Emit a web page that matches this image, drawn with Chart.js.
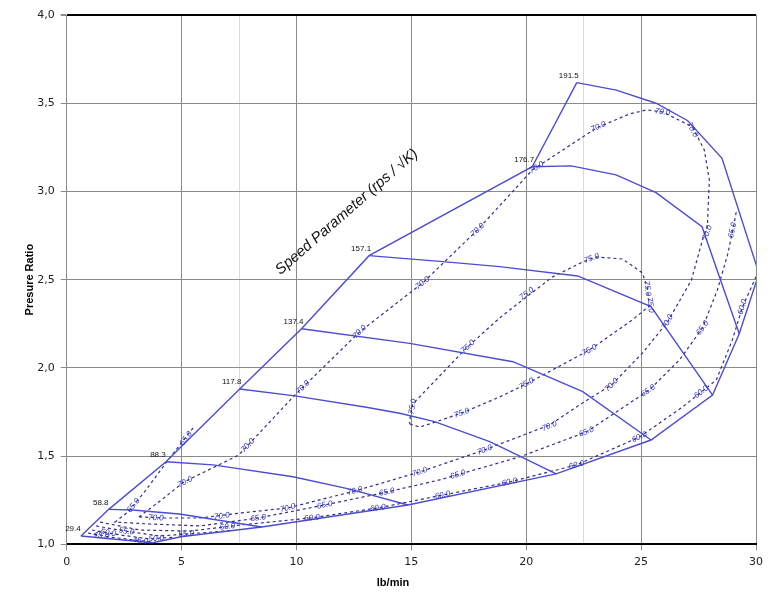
<!DOCTYPE html>
<html>
<head>
<meta charset="utf-8">
<script src="https://cdn.jsdelivr.net/npm/chart.js@4.4.0/dist/chart.umd.min.js"></script>
<style>
  body { margin: 0; background: #fff; }
  #wrap { width: 777px; height: 607px; }
</style>
</head>
<body>
<div id="wrap"><canvas id="map" width="777" height="607"></canvas></div>
<script>
// speed lines: [mass flow lb/min, pressure ratio], surge end first
const speedNames = ['29.4', '58.8', '88.3', '117.8', '137.4', '157.1', '176.7', '191.5'];
const speed294  = [[0.62,1.047],[3.74,1.009]];
const speed588  = [[1.83,1.198],[2.87,1.194],[4.90,1.172],[8.49,1.098]];
const speed883  = [[4.32,1.468],[6.37,1.45],[9.85,1.383],[12.32,1.313],[14.85,1.223]];
const speed1178 = [[7.53,1.88],[9.93,1.841],[13.04,1.777],[14.49,1.743],[16.01,1.695],[18.41,1.582],[19.63,1.506],[21.3,1.399]];
const speed1374 = [[10.22,2.222],[14.93,2.139],[19.42,2.035],[22.46,1.865],[25.43,1.591]];
const speed1571 = [[13.16,2.636],[16.37,2.602],[18.84,2.574],[22.24,2.521],[25.43,2.347],[28.11,1.846]];
const speed1767 = [[20.26,3.14],[21.96,3.145],[23.91,3.094],[25.65,2.993],[27.65,2.80],[29.27,2.193]];
const speed1915 = [[22.2,3.617],[23.92,3.574],[25.65,3.50],[27.03,3.401],[28.52,3.188],[30.13,2.535]];
const speedLines = [speed294, speed588, speed883, speed1178, speed1374, speed1571, speed1767, speed1915];

const surgeLine = [[0.62,1.047],[1.83,1.198],[4.32,1.468],[7.53,1.88],[10.22,2.222],[13.16,2.636],[20.26,3.14],[22.2,3.617]];
const chokeLine = [[3.74,1.009],[4.97,1.043],[8.49,1.098],[14.85,1.223],[21.3,1.399],[25.43,1.591],[28.11,1.846],[29.27,2.193],[30.13,2.535]];

// efficiency islands
const eff75 = [[14.93,1.682],[15.36,1.665],[15.93,1.688],[17.19,1.744],[18.84,1.835],[20.01,1.909],[22.75,2.101],[24.62,2.272],[25.36,2.351],[25.27,2.453],[25.06,2.538],[24.19,2.617],[23.06,2.629],[22.45,2.600],[21.14,2.515],[20.01,2.402],[18.84,2.283],[17.40,2.113],[16.23,1.954],[15.06,1.795],[14.93,1.705],[14.93,1.682]];
const eff70 = [[3.14,1.155],[4.06,1.245],[5.10,1.353],[7.49,1.506],[9.93,1.846],[12.75,2.204],[15.49,2.481],[17.88,2.782],[20.27,3.122],[23.06,3.360],[24.49,3.439],[25.23,3.462],[25.93,3.451],[27.23,3.366],[27.75,3.235],[27.97,3.065],[27.88,2.799],[27.67,2.725],[27.19,2.498],[26.15,2.260],[25.06,2.084],[23.71,1.903],[22.45,1.801],[21.01,1.676],[18.19,1.535],[15.36,1.410],[12.54,1.302],[9.62,1.206],[7.54,1.177],[5.80,1.149],[4.27,1.149],[3.14,1.155]];
const eff65 = [[5.50,1.659],[5.19,1.608],[4.32,1.461],[3.45,1.308],[2.67,1.183],[2.10,1.126],[3.62,1.115],[5.80,1.104],[8.33,1.149],[11.23,1.223],[13.93,1.296],[16.23,1.365],[19.71,1.495],[22.62,1.637],[25.36,1.875],[26.67,2.045],[27.67,2.226],[28.32,2.442],[28.76,2.640],[29.02,2.799],[29.15,2.89]];
const eff60 = [[1.45,1.126],[3.19,1.081],[5.37,1.075],[7.54,1.109],[10.67,1.15],[13.54,1.206],[16.36,1.279],[19.27,1.353],[22.19,1.45],[24.93,1.608],[26.80,1.778],[27.62,1.863],[28.27,1.931],[28.97,2.158],[29.41,2.345],[29.98,2.51],[30.15,2.555]];
const eff55 = [[1.28,1.104],[2.53,1.075],[4.06,1.047],[5.80,1.064],[7.11,1.078]];
const eff50 = [[1.10,1.081],[2.32,1.053],[3.62,1.030],[4.71,1.041]];
const eff45 = [[0.93,1.064],[1.88,1.041],[2.97,1.024],[3.71,1.013]];

// where the efficiency values are written along the lines
const eff75Labels = [[15.06,1.78],[17.46,2.12],[20.02,2.42],[22.84,2.62],[25.27,2.45],[25.4,2.356],[22.75,2.10],[20.01,1.91],[17.19,1.744]];
const eff70Labels = [[5.15,1.353],[7.88,1.56],[10.28,1.89],[12.75,2.204],[15.49,2.481],[17.88,2.782],[20.45,3.136],[23.14,3.366],[25.93,3.451],[27.23,3.35],[27.88,2.765],[26.15,2.26],[23.71,1.903],[21.01,1.67],[18.19,1.535],[15.36,1.41],[12.54,1.302],[9.62,1.206],[6.75,1.16],[3.88,1.15]];
const eff65Labels = [[5.19,1.60],[2.9,1.22],[8.33,1.149],[11.23,1.223],[13.93,1.296],[17.02,1.395],[22.62,1.637],[25.3,1.87],[27.67,2.226],[28.98,2.78]];
const eff60Labels = [[7.0,1.10],[10.67,1.15],[13.54,1.206],[16.36,1.279],[19.27,1.353],[22.19,1.45],[24.93,1.608],[27.62,1.863],[29.41,2.345]];
const eff55Labels = [[2.6,1.073],[5.2,1.06]];
const eff50Labels = [[1.8,1.065],[3.9,1.033]];
const eff45Labels = [[1.5,1.05],[3.2,1.02]];

const xTicks = [0, 5, 10, 15, 20, 25, 30];
const xLightGrid = [7.5, 22.5];
const annotation = { text: 'Speed Parameter (rps / \u221AK)', x: 12.19, y: 2.884 };

const contours = [
    { value: '75.0', pts: eff75, labels: eff75Labels },
    { value: '70.0', pts: eff70, labels: eff70Labels },
    { value: '65.0', pts: eff65, labels: eff65Labels },
    { value: '60.0', pts: eff60, labels: eff60Labels },
    { value: '55.0', pts: eff55, labels: eff55Labels },
    { value: '50.0', pts: eff50, labels: eff50Labels },
    { value: '45.0', pts: eff45, labels: eff45Labels },
];

const SOLID = '#4d4dd2';
const DASH = '#2e2e8e';
const toXY = arr => arr.map(p => ({ x: p[0], y: p[1] }));

const datasets = [];
speedLines.forEach((line, i) => {
    datasets.push({ label: speedNames[i], data: toXY(line), borderColor: SOLID, borderWidth: 1.4 });
});
datasets.push({ label: 'surge', data: toXY(surgeLine), borderColor: SOLID, borderWidth: 1.4 });
datasets.push({ label: 'choke', data: toXY(chokeLine), borderColor: SOLID, borderWidth: 1.4 });
contours.forEach(c => {
    datasets.push({ label: c.value, data: toXY(c.pts), borderColor: DASH, borderWidth: 1.2, borderDash: [3, 3] });
});
datasets.forEach(d => { d.showLine = true; d.pointRadius = 0; d.fill = false; d.tension = 0; });

const mapText = {
    id: 'mapText',
    afterDatasetsDraw(chart) {
        const { ctx, scales: { x, y } } = chart;
        ctx.save();

        // efficiency values, turned along their line
        ctx.fillStyle = '#2f2fc0';
        ctx.font = 'italic 8px "Liberation Sans Narrow", "Liberation Sans", Arial, sans-serif';
        ctx.textAlign = 'center';
        ctx.textBaseline = 'middle';
        contours.forEach(c => {
            const px = c.pts.map(p => [x.getPixelForValue(p[0]), y.getPixelForValue(p[1])]);
            c.labels.forEach(l => {
                const lx = x.getPixelForValue(l[0]), ly = y.getPixelForValue(l[1]);
                let best = 1e9, ang = 0;
                for (let i = 0; i < px.length - 1; i++) {
                    const [ax, ay] = px[i], [bx, by] = px[i + 1];
                    const dx = bx - ax, dy = by - ay, len2 = dx * dx + dy * dy || 1;
                    let t = ((lx - ax) * dx + (ly - ay) * dy) / len2;
                    t = Math.max(0, Math.min(1, t));
                    const d = Math.hypot(ax + t * dx - lx, ay + t * dy - ly);
                    if (d < best) { best = d; ang = Math.atan2(dy, dx); }
                }
                if (ang > Math.PI / 2) ang -= Math.PI;
                if (ang < -Math.PI / 2) ang += Math.PI;
                ctx.save();
                ctx.translate(lx, ly);
                ctx.rotate(ang);
                ctx.fillText(c.value, 0, 0);
                ctx.restore();
            });
        });

        // speed values at the surge end
        ctx.fillStyle = '#111';
        ctx.font = '8px "Liberation Sans Narrow", "Liberation Sans", Arial, sans-serif';
        ctx.textBaseline = 'bottom';
        speedLines.forEach((line, i) => {
            const sx = x.getPixelForValue(line[0][0]), sy = y.getPixelForValue(line[0][1]);
            ctx.fillText(speedNames[i], sx - 8, sy - 3);
        });

        // rotated caption
        ctx.font = 'italic 15px "Liberation Sans", Arial, sans-serif';
        ctx.textBaseline = 'middle';
        ctx.translate(x.getPixelForValue(annotation.x), y.getPixelForValue(annotation.y));
        ctx.rotate(-41 * Math.PI / 180);
        ctx.fillText(annotation.text, 0, 0);
        ctx.restore();

        // x axis title
        ctx.save();
        ctx.fillStyle = '#000';
        ctx.font = 'bold 11px "Liberation Sans", Arial, sans-serif';
        ctx.textAlign = 'center';
        ctx.textBaseline = 'middle';
        ctx.fillText('lb/min', 393, 583);
        ctx.restore();
    }
};

new Chart(document.getElementById('map'), {
    type: 'scatter',
    data: { datasets },
    plugins: [mapText],
    options: {
        responsive: false,
        animation: false,
        devicePixelRatio: 1,
        layout: { padding: { left: 19, right: 21, top: 15, bottom: 0 } },
        plugins: { legend: { display: false }, tooltip: { enabled: false } },
        scales: {
            x: {
                type: 'linear',
                min: 0, max: 30,
                afterFit: s => { s.height = 62.7; },
                ticks: {
                    stepSize: 2.5,
                    padding: 5,
                    color: '#222',
                    font: { family: '"DejaVu Sans", Verdana, sans-serif', size: 11 },
                    callback: v => xTicks.includes(v) ? String(v) : '',
                },
                grid: {
                    color: c => xTicks.includes(c.tick.value) ? '#8a8a8a'
                        : (xLightGrid.includes(c.tick.value) ? '#dadada' : 'rgba(0,0,0,0)'),
                    tickColor: c => xTicks.includes(c.tick.value) ? '#8a8a8a' : 'rgba(0,0,0,0)',
                    tickLength: 6,
                },
                border: { color: '#000', width: 2 },
            },
            y: {
                type: 'linear',
                min: 1, max: 4,
                afterFit: s => { s.width = 47.7; },
                ticks: {
                    stepSize: 0.5,
                    padding: 6,
                    color: '#222',
                    font: { family: '"DejaVu Sans", Verdana, sans-serif', size: 11 },
                    callback: v => v.toFixed(1).replace('.', ','),
                },
                grid: {
                    color: c => c.tick.value === 4 ? '#000' : '#8a8a8a',
                    lineWidth: c => c.tick.value === 4 ? 2 : 1,
                    tickColor: '#8a8a8a',
                    tickLength: 6,
                },
                border: { color: '#8a8a8a' },
                title: {
                    display: true,
                    text: 'Presure Ratio',
                    color: '#000',
                    font: { family: '"Liberation Sans", Arial, sans-serif', size: 11, weight: 'bold' },
                },
            },
        },
    },
});
</script>
</body>
</html>
